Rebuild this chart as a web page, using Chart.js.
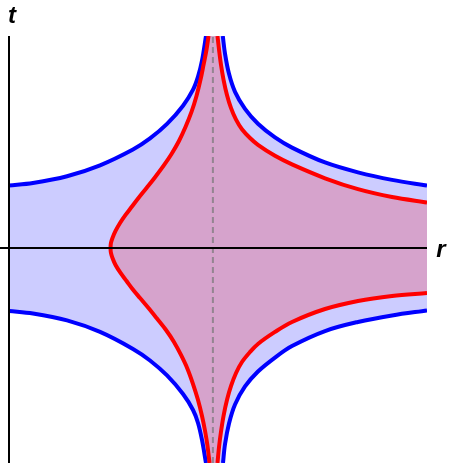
<!DOCTYPE html>
<html>
<head>
<meta charset="utf-8">
<script src="https://cdn.jsdelivr.net/npm/chart.js@4/dist/chart.umd.min.js"></script>
<style>
  body { margin: 0; background: #fff; }
  #wrap { width: 449px; height: 463px; }
</style>
</head>
<body>
<div id="wrap"><canvas id="chart" width="449" height="463"></canvas></div>
<script>
// axis ranges (r horizontal, t vertical)
const rRange = [0, 4.1];
const tRange = [-2.11, 2.08];
const asymptoteR = 2;

// blue curves, four branches
const blueUpperLeftR = [0, 0.235, 0.569, 0.893, 1.216, 1.383, 1.55, 1.707, 1.805, 1.854, 1.893, 1.932];
const blueUpperLeftT = [0.613, 0.638, 0.704, 0.811, 0.966, 1.075, 1.217, 1.396, 1.553, 1.681, 1.838, 2.08];
const blueUpperRightR = [2.097, 2.119, 2.158, 2.217, 2.315, 2.442, 2.609, 2.776, 3.1, 3.423, 3.757, 4.1];
const blueUpperRightT = [2.08, 1.905, 1.709, 1.532, 1.365, 1.219, 1.085, 0.985, 0.839, 0.742, 0.668, 0.613];
const blueLowerLeftR = [0, 0.235, 0.569, 0.893, 1.216, 1.383, 1.55, 1.707, 1.805, 1.854, 1.893, 1.932];
const blueLowerLeftT = [-0.618, -0.643, -0.711, -0.824, -0.991, -1.104, -1.251, -1.433, -1.59, -1.717, -1.884, -2.11];
const blueLowerRightR = [2.099, 2.119, 2.158, 2.217, 2.315, 2.442, 2.609, 2.776, 3.1, 3.423, 3.757, 4.1];
const blueLowerRightT = [-2.11, -1.923, -1.722, -1.536, -1.359, -1.212, -1.075, -0.962, -0.815, -0.726, -0.662, -0.613];

// red curves: left branch (top -> nose -> bottom) and two right branches
const redLeftR = [1.957, 1.937, 1.908, 1.878, 1.839, 1.79, 1.731, 1.667, 1.594, 1.515, 1.427, 1.349, 1.27, 1.202, 1.143, 1.089, 1.045, 1.015, 1.0, 0.996,
                  1.0, 1.015, 1.045, 1.094, 1.153, 1.211, 1.285, 1.368, 1.447, 1.54, 1.618, 1.687, 1.751, 1.805, 1.854, 1.893, 1.923, 1.947, 1.967];
const redLeftT = [2.08, 1.943, 1.796, 1.649, 1.492, 1.335, 1.187, 1.05, 0.922, 0.805, 0.687, 0.589, 0.491, 0.402, 0.324, 0.245, 0.167, 0.098, 0.049, 0,
                  -0.049, -0.098, -0.167, -0.245, -0.324, -0.402, -0.491, -0.589, -0.687, -0.805, -0.922, -1.05, -1.187, -1.335, -1.492, -1.649, -1.796, -1.943, -2.11];
const redUpperRightR = [2.045, 2.06, 2.079, 2.104, 2.138, 2.178, 2.227, 2.285, 2.364, 2.442, 2.609, 2.776, 3.1, 3.423, 3.757, 4.1];
const redUpperRightT = [2.08, 1.947, 1.8, 1.653, 1.501, 1.372, 1.259, 1.165, 1.079, 1.012, 0.904, 0.82, 0.684, 0.577, 0.5, 0.447];
const redLowerRightR = [2.045, 2.06, 2.079, 2.104, 2.138, 2.178, 2.227, 2.285, 2.364, 2.442, 2.609, 2.776, 3.1, 3.423, 3.757, 4.1];
const redLowerRightT = [-2.11, -1.953, -1.806, -1.649, -1.492, -1.354, -1.227, -1.119, -1.021, -0.942, -0.824, -0.726, -0.599, -0.52, -0.471, -0.442];

const pts = (rs, ts) => rs.map((r, i) => ({x: r, y: ts[i]}));

const blueUL = pts(blueUpperLeftR, blueUpperLeftT);
const blueUR = pts(blueUpperRightR, blueUpperRightT);
const blueLL = pts(blueLowerLeftR, blueLowerLeftT);
const blueLR = pts(blueLowerRightR, blueLowerRightT);
const redL = pts(redLeftR, redLeftT);
const redUR = pts(redUpperRightR, redUpperRightT);
const redLR = pts(redLowerRightR, redLowerRightT);

// closed outlines for the shaded regions
const blueRegion = [...blueUL, ...blueUR, ...blueLR.slice().reverse(), ...blueLL.slice().reverse()];
const redRegion = [...redL, ...redLR, ...redUR.slice().reverse()];

const curve = (data, color) => ({
  data, borderColor: color, borderWidth: 4, tension: 0.35,
  pointRadius: 0, fill: false, clip: 0
});
const region = (data, color) => ({
  data, backgroundColor: color, borderWidth: 0, borderColor: 'rgba(0,0,0,0)',
  tension: 0, pointRadius: 0, fill: 'shape', clip: 0
});

const axesPlugin = {
  id: 'axes',
  afterDatasetsDraw(chart) {
    const {ctx, chartArea, scales} = chart;
    const x0 = scales.x.getPixelForValue(0);
    const y0 = scales.y.getPixelForValue(0);
    ctx.save();
    ctx.strokeStyle = '#000';
    ctx.lineWidth = 2;
    ctx.beginPath();
    ctx.moveTo(0, y0);
    ctx.lineTo(chartArea.right, y0);
    ctx.moveTo(x0, chartArea.top);
    ctx.lineTo(x0, chartArea.bottom);
    ctx.stroke();
    ctx.fillStyle = '#000';
    ctx.font = 'italic bold 24px "Liberation Sans", Arial, sans-serif';
    ctx.textAlign = 'center';
    ctx.textBaseline = 'alphabetic';
    ctx.fillText('t', x0 + 3, 23);
    ctx.fillText('r', chartArea.right + 14, y0 + 9);
    ctx.restore();
  }
};

new Chart(document.getElementById('chart'), {
  type: 'line',
  data: {
    datasets: [
      curve(redL, '#ff0000'),
      curve(redUR, '#ff0000'),
      curve(redLR, '#ff0000'),
      curve(blueUL, '#0000ff'),
      curve(blueUR, '#0000ff'),
      curve(blueLL, '#0000ff'),
      curve(blueLR, '#0000ff'),
      {
        data: [{x: asymptoteR, y: tRange[0]}, {x: asymptoteR, y: tRange[1]}],
        borderColor: 'rgba(120,120,120,0.7)', borderWidth: 2, borderDash: [6, 4],
        pointRadius: 0, fill: false, clip: 0
      },
      region(redRegion, 'rgb(214,163,204)'),
      region(blueRegion, 'rgb(204,204,255)')
    ]
  },
  options: {
    responsive: false,
    animation: false,
    layout: { padding: { left: 9, right: 22, top: 36, bottom: 0 } },
    scales: {
      x: { type: 'linear', min: rRange[0], max: rRange[1], display: false },
      y: { type: 'linear', min: tRange[0], max: tRange[1], display: false }
    },
    plugins: { legend: { display: false }, tooltip: { enabled: false } }
  },
  plugins: [axesPlugin]
});
</script>
</body>
</html>
